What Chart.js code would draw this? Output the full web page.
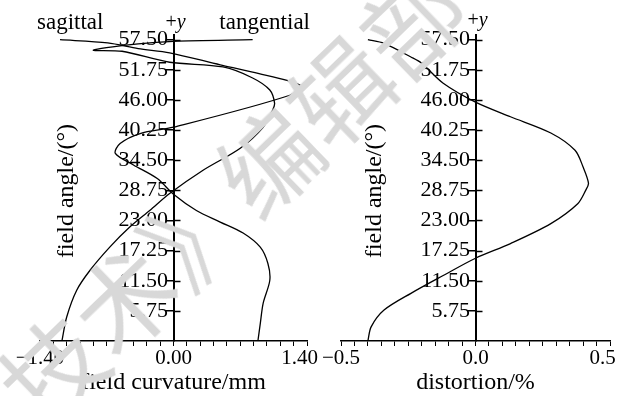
<!DOCTYPE html>
<html>
<head>
<meta charset="utf-8">
<script src="https://cdn.jsdelivr.net/npm/chart.js@4.4.0/dist/chart.umd.min.js"></script>
<style>
  body { margin: 0; background: #fff; width: 617px; height: 396px; overflow: hidden; position: relative; }
  canvas { position: absolute; top: 0; }
  #c1 { left: 0; }
  #c2 { left: 300px; }
  #wm {
    position: absolute; left: -300px; top: 317px;
    font: 100px/100px "Noto Sans CJK SC"; color: #d8d8d8; white-space: nowrap;
    transform-origin: 350px 50px; transform: rotate(-44deg); pointer-events: none;
  }
</style>
</head>
<body>
<canvas id="c1" width="320" height="396"></canvas>
<canvas id="c2" width="317" height="396"></canvas>
<div id="wm">《激光技术》编辑部</div>
<script>
// field angle ticks (deg)
const angleTicks = [5.75, 11.5, 17.25, 23, 28.75, 34.5, 40.25, 46, 51.75, 57.5];

// field curvature (mm) vs field angle
const sagX = [0.885, 0.91, 0.94, 1.01, 0.99, 0.91, 0.73, 0.49, 0.24, 0.0, -0.17, -0.42, -0.61, -0.56, -0.35, 0.0, 1.22, 1.33, 0.83, 0.49, -0.04, -0.37, -0.69, -1.19];
const sagY = [0, 3.3, 7.2, 11.6, 14.8, 17.9, 20.6, 22.7, 24.9, 28.0, 31.0, 33.6, 35.8, 37.7, 39.6, 40.8, 46.9, 48.8, 51.3, 52.7, 55.0, 55.8, 56.9, 57.5];
const tanX = [-1.17, -1.12, -1.015, -0.875, -0.666, -0.456, -0.246, -0.037, 0.31, 0.70, 0.94, 1.04, 1.06, 1.01, 0.83, 0.52, -0.04, -0.54, -0.84, -0.37, 0.0, 0.83];
const tanY = [0, 4.58, 9.69, 13.5, 17.96, 21.8, 24.97, 28.2, 32.6, 36.8, 40.8, 44.1, 45.4, 47.9, 50.2, 52.3, 53.2, 55.3, 55.5, 56.7, 57.2, 57.5];

// distortion (%) vs field angle
const distX = [-0.40, -0.388, -0.34, -0.24, -0.12, 0.0, 0.13, 0.28, 0.38, 0.41, 0.42, 0.40, 0.37, 0.28, 0.13, 0.0, -0.12, -0.20, -0.24, -0.34, -0.40];
const distY = [0, 2.7, 5.9, 9.1, 12.5, 15.8, 18.6, 22.4, 26.2, 28.8, 30.1, 33.2, 36.4, 39.7, 42.8, 45.6, 49.2, 53.0, 54.2, 56.8, 57.5];

// x tick labels
const curvLabelVals = [-1.4, 0, 1.4];
const curvLabelText = ['\u22121.40', '0.00', '1.40'];
const distLabelVals = [-0.5, 0, 0.5];
const distLabelText = ['\u22120.5', '0.0', '0.5'];

const serif = '"Liberation Serif", "Times New Roman", serif';

function pts(xs, ys) {
  return xs.map((v, i) => ({ x: v, y: ys[i] }));
}

function line(label, data) {
  return {
    label: label,
    data: data,
    showLine: true,
    borderColor: '#000',
    borderWidth: 1.3,
    pointRadius: 0,
    tension: 0.3,
    fill: false,
  };
}

function xScale(min, max, step, vals, texts, title) {
  return {
    type: 'linear',
    min: min,
    max: max,
    afterFit: function (s) {
      s.height = 55;
      s.paddingLeft = 0;
      s.paddingRight = 0;
    },
    ticks: {
      stepSize: step,
      autoSkip: false,
      maxRotation: 0,
      minRotation: 0,
      padding: 0,
      color: '#000',
      font: { family: serif, size: 21 },
      callback: function (value) {
        const i = vals.findIndex((v) => Math.abs(v - value) < 1e-6);
        if (i < 0) return '';
        // last label sits a bit left of its tick, as in the print
        return i === vals.length - 1 ? texts[i] + '\u2002\u2009' : texts[i];
      },
    },
    grid: { drawOnChartArea: false, tickLength: 5, color: '#000', lineWidth: 1 },
    border: { display: true, color: '#000', width: 1.5 },
    title: {
      display: true,
      text: title,
      color: '#000',
      font: { family: serif, size: 24, lineHeight: 1 },
      padding: { top: 0, bottom: 1 },
    },
  };
}

function yScale() {
  return {
    type: 'linear',
    position: { x: 0 },
    min: 0,
    max: 58.4,
    afterBuildTicks: function (s) {
      s.ticks = angleTicks.map((v) => ({ value: v }));
    },
    afterFit: function (s) {
      s.width = 0;
    },
    ticks: {
      color: '#000',
      font: { family: serif, size: 22 },
      callback: function (value) {
        // trailing space keeps the label clear of the tick mark
        return value.toFixed(2) + '\u00a0';
      },
    },
    grid: { drawOnChartArea: false, tickLength: 7, color: '#000', lineWidth: 1.5 },
    border: { display: true, color: '#000', width: 2 },
  };
}

// cross ticks, "+y", rotated y title, curve names
function decor(cfg) {
  return {
    id: 'decor',
    afterDraw: function (chart) {
      const ctx = chart.ctx;
      const xs = chart.scales.x;
      const ys = chart.scales.y;
      const area = chart.chartArea;
      const ax = xs.getPixelForValue(0);
      ctx.save();
      ctx.strokeStyle = '#000';
      ctx.lineWidth = 1.5;
      ys.ticks.forEach(function (t) {
        const py = Math.round(ys.getPixelForValue(t.value)) + 0.5;
        ctx.beginPath();
        ctx.moveTo(ax, py);
        ctx.lineTo(ax + 7, py);
        ctx.stroke();
      });

      ctx.fillStyle = '#000';
      ctx.textBaseline = 'alphabetic';
      ctx.textAlign = 'left';
      ctx.font = '20px ' + serif;
      const pw = ctx.measureText('+').width;
      ctx.font = 'italic 20px ' + serif;
      const yw = ctx.measureText('y').width;
      const sx = ax - (pw + yw) / 2 + 2;
      ctx.font = '20px ' + serif;
      ctx.fillText('+', sx, cfg.plusY);
      ctx.font = 'italic 20px ' + serif;
      ctx.fillText('y', sx + pw, cfg.plusY);

      ctx.font = '23px ' + serif;
      if (cfg.names) {
        ctx.textAlign = 'left';
        ctx.fillText(cfg.names[0], area.left - 3, 29);
        ctx.textAlign = 'right';
        ctx.fillText(cfg.names[1], area.right + 3, 29);
      }

      ctx.font = '24px ' + serif;
      ctx.translate(ax - cfg.titleOffset, (area.top + area.bottom) / 2 + 3);
      ctx.rotate(-Math.PI / 2);
      ctx.textAlign = 'center';
      ctx.fillText('field angle/(\u00b0)', 0, 0);
      ctx.restore();
    },
  };
}

new Chart(document.getElementById('c1'), {
  type: 'scatter',
  data: {
    datasets: [line('sagittal', pts(sagX, sagY)), line('tangential', pts(tanX, tanY))],
  },
  options: {
    responsive: false,
    animation: false,
    devicePixelRatio: 1,
    layout: { padding: { left: 40, right: 13, top: 35, bottom: 0 } },
    plugins: { legend: { display: false }, tooltip: { enabled: false } },
    scales: {
      x: xScale(-1.4, 1.4, 0.14, curvLabelVals, curvLabelText, 'field curvature/mm'),
      y: yScale(),
    },
  },
  plugins: [decor({ plusY: 28, titleOffset: 101, names: ['sagittal', 'tangential'] })],
});

new Chart(document.getElementById('c2'), {
  type: 'scatter',
  data: {
    datasets: [line('distortion', pts(distX, distY))],
  },
  options: {
    responsive: false,
    animation: false,
    devicePixelRatio: 1,
    layout: { padding: { left: 41, right: 7, top: 35, bottom: 0 } },
    plugins: { legend: { display: false }, tooltip: { enabled: false } },
    scales: {
      x: xScale(-0.5, 0.5, 0.05, distLabelVals, distLabelText, 'distortion/%'),
      y: yScale(),
    },
  },
  plugins: [decor({ plusY: 26, titleOffset: 95 })],
});
</script>
</body>
</html>
